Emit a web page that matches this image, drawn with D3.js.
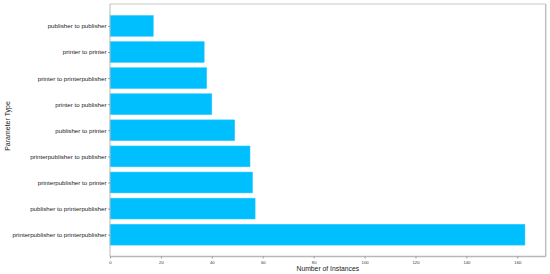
<!DOCTYPE html>
<html><head><meta charset="utf-8">
<script src="https://cdn.jsdelivr.net/npm/d3@7"></script>
<style>body{margin:0;background:#fff;font-family:"Liberation Sans",sans-serif;}</style>
</head><body><svg id="c" width="550" height="274"></svg>
<script>
const categories = ["publisher to publisher","printer to printer","printer to printerpublisher","printer to publisher","publisher to printer","printerpublisher to publisher","printerpublisher to printer","publisher to printerpublisher","printerpublisher to printerpublisher"];
const counts = [17,37,38,40,49,55,56,57,163];
const xTicks = [0,20,40,60,80,100,120,140,160];

const svg = d3.select("#c");
const L = 110, R = 545.7, T = 4, B = 256.6;
const x = d3.scaleLinear().domain([0, d3.max(counts)*1.05]).range([L, R]);
const n = categories.length;
const y = d3.scaleLinear().domain([-0.84, n - 1 + 0.84]).range([T, B]);
const bh = Math.abs(y(0.8) - y(0));

svg.selectAll("rect.bar").data(categories).enter().append("rect")
  .attr("x", x(0)).attr("y", (d,i)=>y(i)-bh/2)
  .attr("width", (d,i)=>x(counts[i])-x(0)).attr("height", bh)
  .attr("fill", "#00bfff").attr("stroke","#33ccff").attr("stroke-width",0.5);

const g = svg.append("g");
g.append("line").attr("x1",L).attr("x2",R).attr("y1",T).attr("y2",T).attr("stroke","#c8c8c8").attr("stroke-width",1);
g.append("line").attr("x1",R).attr("x2",R).attr("y1",T).attr("y2",B).attr("stroke","#c0c0c0").attr("stroke-width",1.5);
g.append("line").attr("x1",L).attr("x2",L).attr("y1",T).attr("y2",B).attr("stroke","#b8b8b8").attr("stroke-width",1);
g.append("line").attr("x1",L).attr("x2",R).attr("y1",B).attr("y2",B).attr("stroke","#b8b8b8").attr("stroke-width",1.5);

const xa = svg.append("g").attr("transform",`translate(0,${B})`)
  .call(d3.axisBottom(x).tickValues(xTicks).tickSize(2).tickPadding(2));
xa.select(".domain").remove();
xa.selectAll("line").attr("stroke","#555").attr("stroke-width",0.5);
xa.selectAll("text").attr("font-size","4.2px").attr("fill","#333").attr("font-family","Liberation Sans");

const ya = svg.append("g").attr("transform",`translate(${L},0)`)
  .call(d3.axisLeft(y).tickValues(d3.range(n)).tickFormat(i=>categories[i]).tickSize(2).tickPadding(1.5));
ya.select(".domain").remove();
ya.selectAll("line").attr("stroke","#555").attr("stroke-width",0.5);
ya.selectAll("text").attr("font-size","6.2px").attr("fill","#222").attr("font-family","Liberation Sans");

svg.append("text").attr("x",(L+R)/2).attr("y",271).attr("text-anchor","middle")
  .attr("font-family","Liberation Sans").attr("font-size","6.8px").attr("fill","#222").text("Number of Instances");
svg.append("text").attr("transform",`translate(10,126) rotate(-90)`).attr("text-anchor","middle")
  .attr("font-family","Liberation Sans").attr("font-size","7px").attr("fill","#222").text("Parameter Type");
</script></body></html>
